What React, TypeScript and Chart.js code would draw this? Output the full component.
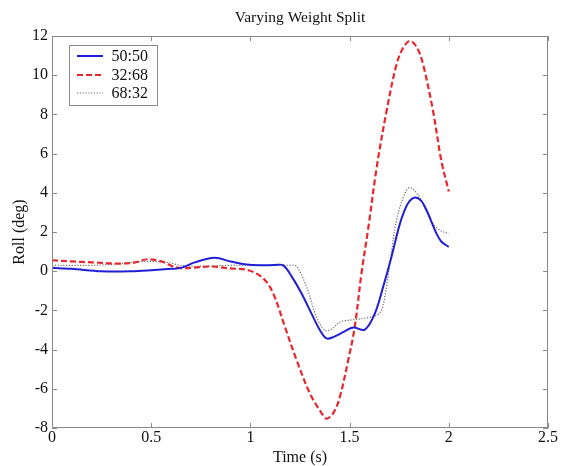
import React, { useEffect, useRef } from "react";
import { Chart, registerables } from "chart.js";

Chart.register(...registerables);

const chartTitle = "Varying Weight Split";
const xTitle = "Time (s)";
const yTitle = "Roll (deg)";
const xTicks = [0, 0.5, 1, 1.5, 2, 2.5];
const yTicks = [-8, -6, -4, -2, 0, 2, 4, 6, 8, 10, 12];

const seriesLabels = ["50:50", "32:68", "68:32"];

const t5050 = [0, 0.1, 0.25, 0.4, 0.5, 0.6, 0.65, 0.72, 0.82, 0.9, 0.97, 1.05, 1.12, 1.165, 1.21, 1.258, 1.316, 1.35, 1.384, 1.42, 1.47, 1.518, 1.577, 1.627, 1.669, 1.711, 1.75, 1.775, 1.8, 1.829, 1.86, 1.888, 1.938, 1.963, 2.0];
const roll5050 = [0.17, 0.12, 0.0, 0.0, 0.05, 0.12, 0.17, 0.45, 0.68, 0.5, 0.36, 0.3, 0.31, 0.3, -0.3, -1.14, -2.33, -3.0, -3.43, -3.35, -3.1, -2.87, -2.98, -2.16, -0.8, 0.73, 2.3, 3.05, 3.55, 3.76, 3.6, 3.11, 1.92, 1.5, 1.24];

const t3268 = [0, 0.1, 0.2, 0.34, 0.42, 0.48, 0.55, 0.64, 0.8, 0.9, 0.99, 1.065, 1.115, 1.174, 1.233, 1.3, 1.35, 1.384, 1.42, 1.451, 1.493, 1.526, 1.56, 1.594, 1.636, 1.686, 1.736, 1.77, 1.804, 1.84, 1.871, 1.921, 1.963, 2.0];
const roll3268 = [0.56, 0.5, 0.45, 0.39, 0.45, 0.61, 0.5, 0.17, 0.24, 0.14, 0.05, -0.37, -1.14, -2.84, -4.54, -6.24, -7.1, -7.52, -7.2, -6.41, -4.54, -2.84, -0.1, 2.19, 5.26, 8.15, 10.53, 11.4, 11.75, 11.4, 10.53, 8.15, 5.6, 4.07];

const t6832 = [0, 0.1, 0.2, 0.3, 0.4, 0.5, 0.58, 0.65, 0.75, 0.9, 1.05, 1.2, 1.233, 1.283, 1.333, 1.375, 1.41, 1.451, 1.5, 1.568, 1.636, 1.661, 1.686, 1.71, 1.736, 1.778, 1.804, 1.846, 1.88, 1.92, 1.955, 2.0];
const roll6832 = [0.3, 0.3, 0.3, 0.35, 0.45, 0.5, 0.45, 0.3, 0.25, 0.3, 0.3, 0.3, 0.25, -0.8, -2.33, -3.01, -2.95, -2.59, -2.5, -2.41, -2.25, -1.99, -0.8, 0.9, 2.6, 3.96, 4.27, 3.88, 3.2, 2.43, 2.09, 1.92];

const FONT = "'Liberation Serif', 'Times New Roman', serif";

const toPoints = (t: number[], v: number[]) => t.map((x, i) => ({ x, y: v[i] }));

const framePlugin = {
  id: "matlabFrame",
  afterDatasetsDraw(chart: any) {
    const { ctx, chartArea } = chart;
    const { left, right, top, bottom } = chartArea;
    const xs = chart.scales.x;
    const ys = chart.scales.y;
    ctx.save();
    ctx.strokeStyle = "#8a8a8a";
    ctx.lineWidth = 1;
    ctx.setLineDash([]);
    ctx.strokeRect(left + 0.5, top + 0.5, right - left - 1, bottom - top - 1);
    const tl = 5;
    ctx.beginPath();
    xs.ticks.forEach((tk: any) => {
      const px = Math.round(xs.getPixelForValue(tk.value)) + 0.5;
      ctx.moveTo(px, bottom);
      ctx.lineTo(px, bottom - tl);
      ctx.moveTo(px, top);
      ctx.lineTo(px, top + tl);
    });
    ys.ticks.forEach((tk: any) => {
      const py = Math.round(ys.getPixelForValue(tk.value)) + 0.5;
      ctx.moveTo(left, py);
      ctx.lineTo(left + tl, py);
      ctx.moveTo(right, py);
      ctx.lineTo(right - tl, py);
    });
    ctx.stroke();

    // legend
    const bx = left + 17.5;
    const by = top + 9.5;
    const bw = 88;
    const bh = 60;
    ctx.fillStyle = "#ffffff";
    ctx.fillRect(bx, by, bw, bh);
    ctx.strokeStyle = "#8a8a8a";
    ctx.strokeRect(bx, by, bw, bh);
    const rows = [20, 39, 57];
    chart.data.datasets.forEach((ds: any, i: number) => {
      const yy = top + rows[i];
      ctx.save();
      ctx.strokeStyle = ds.borderColor;
      ctx.lineWidth = ds.borderWidth;
      ctx.setLineDash(ds.borderDash || []);
      ctx.beginPath();
      ctx.moveTo(left + 25, yy);
      ctx.lineTo(left + 51, yy);
      ctx.stroke();
      ctx.restore();
      ctx.fillStyle = "#111";
      ctx.font = "16px " + FONT;
      ctx.textBaseline = "middle";
      ctx.textAlign = "left";
      ctx.fillText(ds.label, left + 59.5, yy + 1);
    });
    ctx.restore();
  },
};

export default function App() {
  const canvasRef = useRef<HTMLCanvasElement | null>(null);

  useEffect(() => {
    document.body.style.margin = "0";
    const canvas = canvasRef.current;
    if (!canvas) return;
    const chart = new Chart(canvas, {
      type: "line",
      data: {
        datasets: [
          {
            label: seriesLabels[0],
            data: toPoints(t5050, roll5050),
            borderColor: "#1f1fd6",
            borderWidth: 2,
            pointRadius: 0,
            tension: 0.35,
          },
          {
            label: seriesLabels[1],
            data: toPoints(t3268, roll3268),
            borderColor: "#e8262b",
            borderWidth: 2.2,
            borderDash: [6, 3],
            pointRadius: 0,
            tension: 0.35,
          },
          {
            label: seriesLabels[2],
            data: toPoints(t6832, roll6832),
            borderColor: "#6a6a6a",
            borderWidth: 1.2,
            borderDash: [1.2, 1.6],
            pointRadius: 0,
            tension: 0.35,
          },
        ] as any,
      },
      options: {
        animation: false,
        responsive: false,
        events: [],
        layout: { padding: { left: 0, right: 14, top: 0, bottom: 0 } },
        plugins: {
          legend: { display: false },
          tooltip: { enabled: false },
          title: {
            display: true,
            text: chartTitle,
            fullSize: false,
            color: "#111",
            font: { family: FONT, size: 15.5, weight: "normal" },
            padding: { top: 9, bottom: 8.4 },
          },
        },
        scales: {
          x: {
            type: "linear",
            min: 0,
            max: 2.5,
            grid: { display: false, drawTicks: false },
            border: { display: false },
            afterBuildTicks: (s: any) => {
              s.ticks = xTicks.map((v) => ({ value: v }));
            },
            afterFit: (s: any) => {
              s.height = 38;
            },
            ticks: {
              padding: 0,
              color: "#111",
              font: { family: FONT, size: 16 },
              maxRotation: 0,
              callback: (v: any) => String(v),
            },
            title: {
              display: true,
              text: xTitle,
              color: "#111",
              font: { family: FONT, size: 16, lineHeight: 1 },
              padding: { top: 0, bottom: 0 },
            },
          },
          y: {
            type: "linear",
            min: -8,
            max: 12,
            grid: { display: false, drawTicks: false },
            border: { display: false },
            afterBuildTicks: (s: any) => {
              s.ticks = yTicks.map((v) => ({ value: v }));
            },
            afterFit: (s: any) => {
              s.width = 52;
            },
            ticks: {
              padding: 4,
              color: "#111",
              font: { family: FONT, size: 16 },
              callback: (v: any) => String(v),
            },
            title: {
              display: true,
              text: yTitle,
              color: "#111",
              font: { family: FONT, size: 16 },
              padding: { top: 10.4, bottom: 0 },
            },
          },
        },
      },
      plugins: [framePlugin],
    });
    return () => chart.destroy();
  }, []);

  return (
    <div style={{ width: 562, height: 466, background: "#fff" }}>
      <canvas ref={canvasRef} width={562} height={466} style={{ display: "block" }} />
    </div>
  );
}
